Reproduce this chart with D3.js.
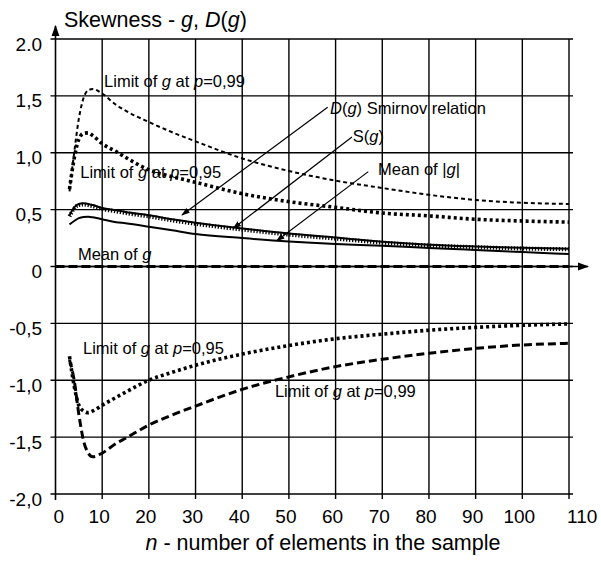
<!DOCTYPE html>
<html>
<head>
<meta charset="utf-8">
<script src="https://cdn.jsdelivr.net/npm/d3@7"></script>
<style>
	body { margin: 0; background: #fff; }
	text { font-family: "Liberation Sans", Arial, sans-serif; fill: #000; }
</style>
</head>
<body>
<svg id="chart" width="601" height="561"></svg>
<script>
// sample sizes the curves were read at
const nValues = [3, 4, 5, 6, 7, 8, 10, 13, 15, 20, 25, 30, 40, 50, 60, 70, 80, 90, 100, 110];

const upper99 = [0.66, 1.0, 1.30, 1.48, 1.55, 1.56, 1.52, 1.42, 1.37, 1.27, 1.18, 1.10, 0.95, 0.84, 0.755, 0.69, 0.63, 0.585, 0.56, 0.55];
const upper95 = [0.68, 0.95, 1.12, 1.17, 1.175, 1.15, 1.08, 1.01, 0.96, 0.85, 0.79, 0.74, 0.64, 0.57, 0.52, 0.47, 0.445, 0.415, 0.40, 0.39];
const sOfG = [0.45, 0.52, 0.55, 0.556, 0.55, 0.54, 0.515, 0.495, 0.48, 0.45, 0.415, 0.385, 0.335, 0.29, 0.255, 0.218, 0.192, 0.176, 0.164, 0.156];
const dSmirnov = [0.44, 0.51, 0.54, 0.545, 0.54, 0.53, 0.505, 0.485, 0.47, 0.44, 0.405, 0.375, 0.325, 0.28, 0.245, 0.21, 0.185, 0.17, 0.158, 0.152];
const meanAbsG = [0.37, 0.40, 0.425, 0.435, 0.437, 0.432, 0.415, 0.39, 0.38, 0.35, 0.318, 0.285, 0.25, 0.22, 0.198, 0.183, 0.163, 0.145, 0.127, 0.11];
const lower95 = [-0.79, -1.05, -1.22, -1.27, -1.285, -1.27, -1.22, -1.15, -1.105, -1.0, -0.93, -0.868, -0.77, -0.695, -0.635, -0.595, -0.56, -0.535, -0.517, -0.505];
const lower99 = [-0.82, -1.0, -1.3, -1.53, -1.64, -1.673, -1.64, -1.555, -1.51, -1.394, -1.305, -1.227, -1.08, -0.97, -0.88, -0.816, -0.763, -0.72, -0.69, -0.675];

const meanGn = [0, 110];
const meanG = [0, 0];

const xTicks = [0, 10, 20, 30, 40, 50, 60, 70, 80, 90, 100, 110];
const yTicks = [-2, -1.5, -1, -0.5, 0, 0.5, 1, 1.5, 2];
const yTickLabels = ['-2,0', '-1,5', '-1,0', '-0,5', '0', '0,5', '1,0', '1,5', '2.0'];

// text pieces: [string, italic]
const labels = [
	{ parts: [['Limit of ', 0], ['g', 1], [' at ', 0], ['p', 1], ['=0,99', 0]], n: 10.4, v: 1.58 },
	{ parts: [['Limit of ', 0], ['g', 1], [' at ', 0], ['p', 1], ['=0,95', 0]], n: 5.3, v: 0.78 },
	{ parts: [['D', 1], ['(', 0], ['g', 1], [') Smirnov relation', 0]], n: 58.8, v: 1.34 },
	{ parts: [['S(', 0], ['g', 1], [')', 0]], n: 63.7, v: 1.095 },
	{ parts: [['Mean of |', 0], ['g', 1], ['|', 0]], n: 69.1, v: 0.805 },
	{ parts: [['Mean of ', 0], ['g', 1]], n: 4.8, v: 0.057 },
	{ parts: [['Limit of ', 0], ['g', 1], [' at ', 0], ['p', 1], ['=0,95', 0]], n: 5.9, v: -0.77 },
	{ parts: [['Limit of ', 0], ['g', 1], [' at ', 0], ['p', 1], ['=0,99', 0]], n: 47, v: -1.148 }
];
const pointers = [
	{ n1: 58.3, v1: 1.40, n2: 27.1, v2: 0.453 },
	{ n1: 63.5, v1: 1.139, n2: 38.1, v2: 0.336 },
	{ n1: 67, v1: 0.834, n2: 47.4, v2: 0.227 }
];

const svg = d3.select('#chart');
const x = d3.scaleLinear().domain([0, 110]).range([55.5, 569]);
const y = d3.scaleLinear().domain([-2, 2]).range([494, 39]);

svg.append('rect').attr('width', 601).attr('height', 561).style('fill', '#fff');

let defs = svg.append('defs');
defs.append('marker').attr('id', 'head')
	.attr('viewBox', '0 0 10 10').attr('refX', 9).attr('refY', 5)
	.attr('markerWidth', 7).attr('markerHeight', 7).attr('orient', 'auto')
	.append('path').attr('d', 'M0,1.5L10,5L0,8.5Z').style('fill', '#000');

// grid
let grid = svg.append('g');
grid.selectAll('.hgrid')
	.data(yTicks)
	.enter()
	.append('line')
	.attr('x1', x(0) - 5).attr('x2', x(110) + 4)
	.attr('y1', d => y(d)).attr('y2', d => y(d))
	.style('stroke', '#000').style('stroke-width', 1.4)
grid.selectAll('.vgrid')
	.data(xTicks.slice(1))
	.enter()
	.append('line')
	.attr('x1', d => x(d)).attr('x2', d => x(d))
	.attr('y1', y(2)).attr('y2', y(-2) + 5)
	.style('stroke', '#000').style('stroke-width', 1.4)

// axes with arrows
svg.append('line')
	.attr('x1', x(0)).attr('x2', x(0)).attr('y1', y(-2) + 6).attr('y2', 26)
	.style('stroke', '#000').style('stroke-width', 1.6)
	.attr('marker-end', 'url(#head)')
svg.append('line')
	.attr('x1', x(0)).attr('x2', 588).attr('y1', y(0)).attr('y2', y(0))
	.style('stroke', '#000').style('stroke-width', 1.6)
	.attr('marker-end', 'url(#head)')

// tick labels
svg.selectAll('.ylab')
	.data(yTicks)
	.enter()
	.append('text')
	.attr('x', 42)
	.attr('y', d => y(d) + 11.5)
	.attr('text-anchor', 'end')
	.style('font-size', '19px')
	.text((d, i) => yTickLabels[i])

svg.selectAll('.xlab')
	.data(xTicks)
	.enter()
	.append('text')
	.attr('x', (d, i, a) => (i == 0 || i == a.length - 1) ? x(d) - 2 : x(d) - 3)
	.attr('y', 523)
	.attr('text-anchor', (d, i, a) => (i == 0 || i == a.length - 1) ? 'start' : 'middle')
	.style('font-size', '19px')
	.text(d => d)

// curves
let line = d3.line()
	.x(d => x(d[0]))
	.y(d => y(d[1]))
	.curve(d3.curveMonotoneX)

const series = [
	{ vals: upper99, ns: nValues, width: 2, dash: '4,3' },
	{ vals: upper95, ns: nValues, width: 3.6, dash: '3,3' },
	{ vals: meanAbsG, ns: nValues, width: 2, dash: null },
	{ vals: sOfG, ns: nValues, width: 2, dash: null },
	{ vals: dSmirnov, ns: nValues, width: 4, dash: '1.3,1.7' },
	{ vals: meanG, ns: meanGn, width: 3, dash: '9,4' },
	{ vals: lower95, ns: nValues, width: 3.6, dash: '3,3' },
	{ vals: lower99, ns: nValues, width: 3, dash: '8,4' }
];
svg.append('g').selectAll('path')
	.data(series)
	.enter()
	.append('path')
	.attr('d', s => line(s.vals.map((v, i) => [s.ns[i], v])))
	.style('fill', 'none')
	.style('stroke', '#000')
	.style('stroke-width', s => s.width)
	.style('stroke-dasharray', s => s.dash)

// pointer lines
svg.append('g').selectAll('line')
	.data(pointers)
	.enter()
	.append('line')
	.attr('x1', d => x(d.n1)).attr('y1', d => y(d.v1))
	.attr('x2', d => x(d.n2)).attr('y2', d => y(d.v2))
	.style('stroke', '#000').style('stroke-width', 1.2)
	.attr('marker-end', 'url(#head)')

// curve labels
let lab = svg.append('g').selectAll('text')
	.data(labels)
	.enter()
	.append('text')
	.attr('x', d => x(d.n))
	.attr('y', d => y(d.v))
	.style('font-size', '16.5px')
lab.selectAll('tspan')
	.data(d => d.parts)
	.enter()
	.append('tspan')
	.style('font-style', d => d[1] ? 'italic' : 'normal')
	.text(d => d[0])

// titles
let yTitle = svg.append('text').attr('x', 64).attr('y', 27).style('font-size', '21.5px');
[['Skewness - ', 0], ['g', 1], [', ', 0], ['D', 1], ['(', 0], ['g', 1], [')', 0]].forEach(p => {
	yTitle.append('tspan').style('font-style', p[1] ? 'italic' : 'normal').text(p[0])
})
let xTitle = svg.append('text').attr('x', 323).attr('y', 550).attr('text-anchor', 'middle').style('font-size', '21.5px');
[['n', 1], [' - number of elements in the sample', 0]].forEach(p => {
	xTitle.append('tspan').style('font-style', p[1] ? 'italic' : 'normal').text(p[0])
})
</script>
</body>
</html>
